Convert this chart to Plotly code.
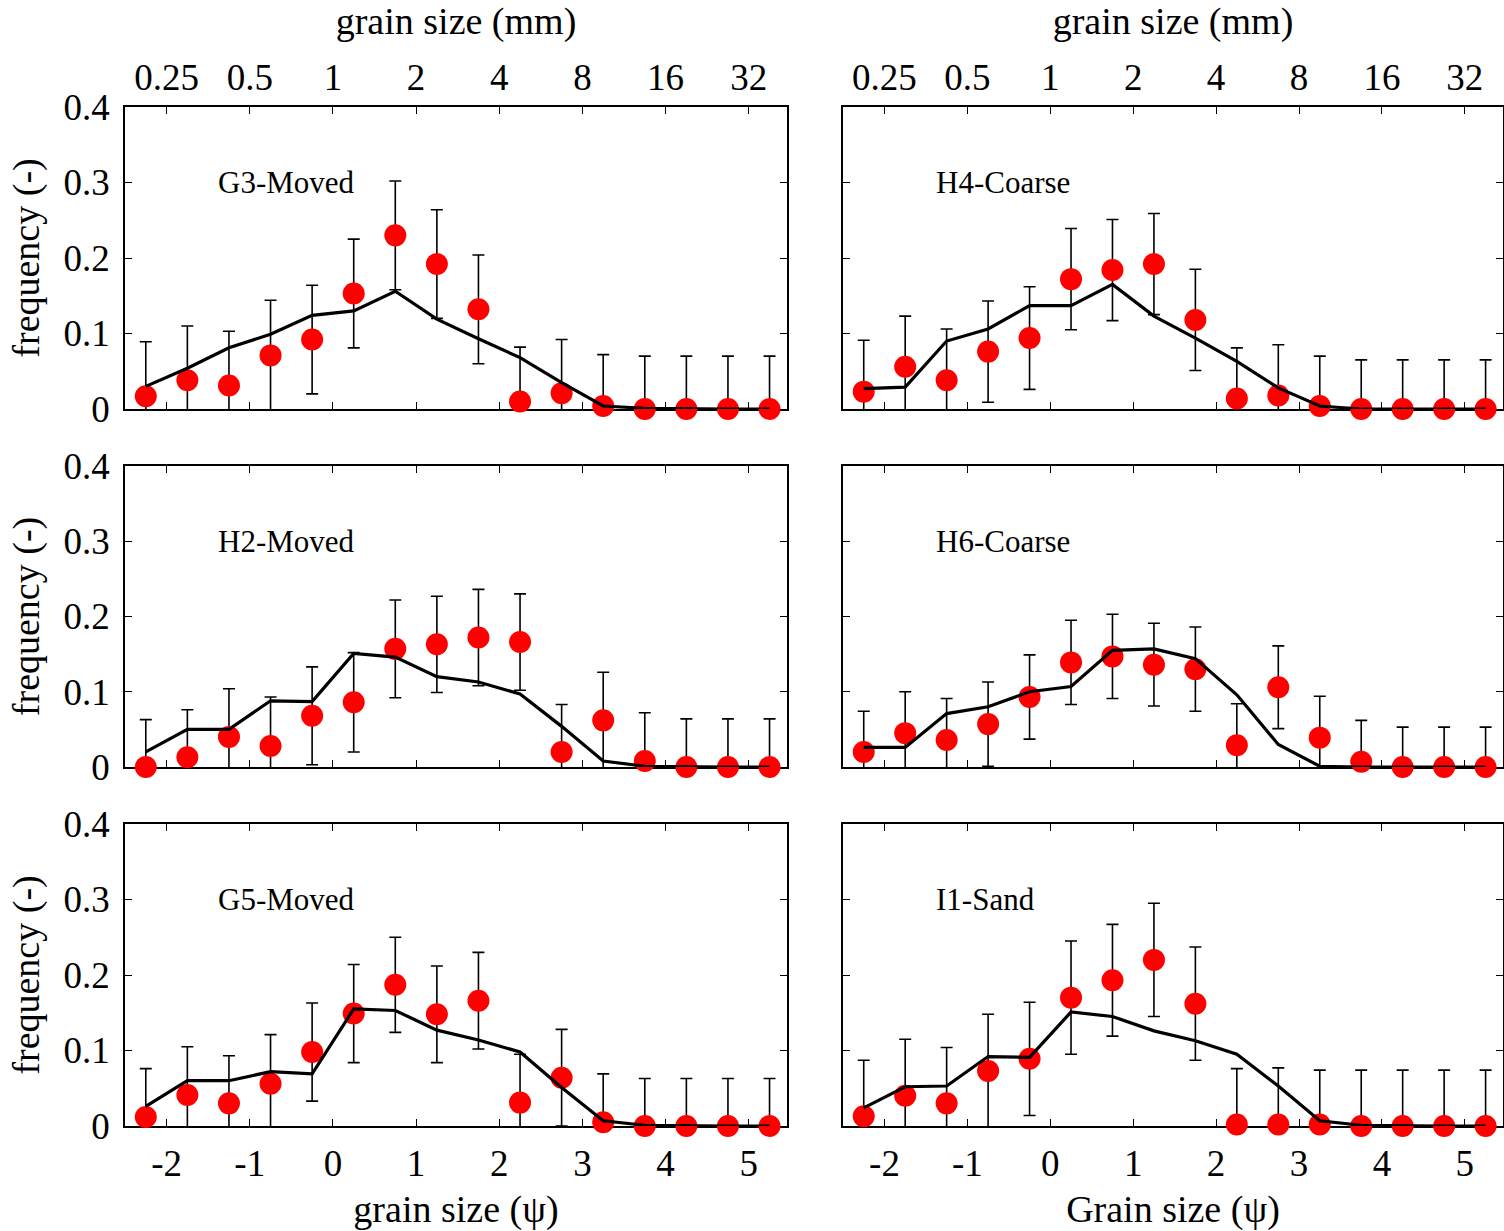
import plotly.graph_objects as go
import numpy as np

# ---------------- data ----------------
psi_bins = [-2.25, -1.75, -1.25, -0.75, -0.25, 0.25, 0.75, 1.25,
            1.75, 2.25, 2.75, 3.25, 3.75, 4.25, 4.75, 5.25]

panel_names = ["G3-Moved", "H4-Coarse", "H2-Moved", "H6-Coarse", "G5-Moved", "I1-Sand"]

G3_obs = [0.017, 0.038, 0.031, 0.071, 0.092, 0.153, 0.230, 0.192, 0.132, 0.010, 0.021, 0.004, 0, 0, 0, 0]
G3_err = [0.072, 0.072, 0.072, 0.073, 0.072, 0.072, 0.072, 0.072, 0.072, 0.072, 0.071, 0.068, 0.070, 0.070, 0.070, 0.070]
G3_model = [0.030, 0.054, 0.081, 0.099, 0.124, 0.130, 0.156, 0.119, 0.093, 0.068, 0.035, 0.004, 0.001, 0, 0, 0]

H4_obs = [0.023, 0.056, 0.038, 0.076, 0.094, 0.172, 0.184, 0.192, 0.118, 0.014, 0.018, 0.004, 0, 0, 0, 0]
H4_err = [0.068, 0.067, 0.068, 0.067, 0.068, 0.067, 0.067, 0.067, 0.067, 0.067, 0.067, 0.066, 0.065, 0.065, 0.065, 0.065]
H4_model = [0.027, 0.029, 0.090, 0.106, 0.137, 0.137, 0.165, 0.123, 0.094, 0.063, 0.028, 0.004, 0, 0, 0, 0]

H2_obs = [0, 0.013, 0.040, 0.028, 0.068, 0.086, 0.157, 0.163, 0.172, 0.166, 0.020, 0.062, 0.008, 0, 0, 0]
H2_err = [0.063, 0.063, 0.064, 0.065, 0.065, 0.066, 0.065, 0.064, 0.064, 0.064, 0.063, 0.064, 0.064, 0.064, 0.064, 0.064]
H2_model = [0.020, 0.050, 0.050, 0.088, 0.087, 0.151, 0.146, 0.120, 0.113, 0.097, 0.054, 0.008, 0.001, 0, 0, 0]

H6_obs = [0.020, 0.045, 0.036, 0.057, 0.093, 0.139, 0.147, 0.136, 0.130, 0.029, 0.106, 0.039, 0.007, 0, 0, 0]
H6_err = [0.054, 0.055, 0.055, 0.056, 0.056, 0.056, 0.056, 0.055, 0.056, 0.055, 0.055, 0.055, 0.055, 0.053, 0.053, 0.053]
H6_model = [0.026, 0.026, 0.071, 0.080, 0.100, 0.107, 0.155, 0.157, 0.144, 0.096, 0.030, 0.001, 0, 0, 0, 0]

G5_obs = [0.012, 0.041, 0.030, 0.056, 0.098, 0.149, 0.187, 0.148, 0.166, 0.031, 0.064, 0.005, 0, 0, 0, 0]
G5_err = [0.064, 0.064, 0.063, 0.065, 0.065, 0.065, 0.063, 0.064, 0.064, 0.064, 0.064, 0.064, 0.063, 0.063, 0.063, 0.063]
G5_model = [0.026, 0.060, 0.060, 0.072, 0.069, 0.155, 0.153, 0.127, 0.114, 0.098, 0.051, 0.007, 0.001, 0, 0, 0]

I1_obs = [0.013, 0.040, 0.030, 0.073, 0.089, 0.170, 0.193, 0.220, 0.162, 0.002, 0.002, 0.002, 0, 0, 0, 0]
I1_err = [0.074, 0.075, 0.074, 0.075, 0.075, 0.075, 0.074, 0.075, 0.075, 0.074, 0.075, 0.072, 0.074, 0.074, 0.074, 0.074]
I1_model = [0.024, 0.052, 0.053, 0.092, 0.091, 0.151, 0.145, 0.126, 0.113, 0.095, 0.053, 0.007, 0.001, 0, 0, 0]

obs_list = [G3_obs, H4_obs, H2_obs, H6_obs, G5_obs, I1_obs]
err_list = [G3_err, H4_err, H2_err, H6_err, G5_err, I1_err]
model_list = [G3_model, H4_model, H2_model, H6_model, G5_model, I1_model]

psi_ticks = [-2, -1, 0, 1, 2, 3, 4, 5]
psi_ticktext = ["-2", "-1", "0", "1", "2", "3", "4", "5"]
mm_ticks = [0.25, 0.5, 1, 2, 4, 8, 16, 32]
mm_ticktext = ["0.25", "0.5", "1", "2", "4", "8", "16", "32"]
y_ticks = [0, 0.1, 0.2, 0.3, 0.4]
y_ticktext = ["0", "0.1", "0.2", "0.3", "0.4"]

x_range = [-2.5, 5.46]
y_range = [0, 0.4]

# ---------------- layout geometry ----------------
W, H = 1504, 1231
col_px = [(125, 787), (843, 1503)]
row_px = [(107, 409), (466, 767), (824, 1126)]

FONT = "Liberation Serif"
TICK_SIZE = 37
TITLE_SIZE = 38
LABEL_SIZE = 31

fig = go.Figure()
layout = dict(
    width=W, height=H, margin=dict(l=0, r=0, t=0, b=0, autoexpand=False),
    paper_bgcolor="white", plot_bgcolor="white", showlegend=False,
    font=dict(family=FONT, color="black", size=TICK_SIZE),
)

annotations = []
for i in range(6):
    r, c = divmod(i, 2)
    n = i + 1
    xa = "x" if n == 1 else f"x{n}"
    ya = "y" if n == 1 else f"y{n}"
    xkey = "xaxis" if n == 1 else f"xaxis{n}"
    ykey = "yaxis" if n == 1 else f"yaxis{n}"
    x0, x1 = col_px[c]
    y0, y1 = row_px[r]
    bottom_row = (r == 2)
    layout[xkey] = dict(
        domain=[x0 / W, x1 / W], anchor=ya, range=x_range,
        tickvals=psi_ticks, ticktext=psi_ticktext,
        showticklabels=bottom_row, ticks="inside", ticklen=7, tickwidth=1.2,
        tickcolor="black", showline=True, linecolor="black", linewidth=1.5,
        mirror="ticks", showgrid=False, zeroline=False, layer="below traces",
        tickfont=dict(family=FONT, size=TICK_SIZE, color="black"),
        ticklabelstandoff=4, automargin=False,
    )
    if bottom_row:
        layout[xkey]["title"] = dict(
            text="grain size (\u03c8)" if c == 0 else "Grain size (\u03c8)",
            font=dict(family=FONT, size=TITLE_SIZE, color="black"), standoff=12)
    layout[ykey] = dict(
        domain=[1 - y1 / H, 1 - y0 / H], anchor=xa, range=y_range,
        tickvals=y_ticks, ticktext=y_ticktext,
        showticklabels=(c == 0), ticks="inside", ticklen=7, tickwidth=1.2,
        tickcolor="black", showline=True, linecolor="black", linewidth=1.5,
        mirror="ticks", showgrid=False, zeroline=False, layer="below traces",
        tickfont=dict(family=FONT, size=TICK_SIZE, color="black"),
        ticklabelstandoff=6, automargin=False,
    )
    if c == 0:
        layout[ykey]["title"] = dict(
            text="frequency (-)", font=dict(family=FONT, size=TITLE_SIZE, color="black"),
            standoff=12)

    obs = np.array(obs_list[i])
    err = np.array(err_list[i])
    # error bars (clipped to the subplot)
    fig.add_trace(go.Scatter(
        x=psi_bins, y=obs, xaxis=xa, yaxis=ya, mode="markers",
        marker=dict(size=2, color="rgba(0,0,0,0)"),
        error_y=dict(type="data", array=err, symmetric=True, color="black",
                     thickness=1.6, width=6),
        cliponaxis=True, hoverinfo="skip"))
    # observed frequencies
    fig.add_trace(go.Scatter(
        x=psi_bins, y=obs, xaxis=xa, yaxis=ya, mode="markers",
        marker=dict(size=22, color="#ff0000", line=dict(width=0)),
        cliponaxis=False, name=panel_names[i] + " observed"))
    # model line
    fig.add_trace(go.Scatter(
        x=psi_bins, y=model_list[i], xaxis=xa, yaxis=ya, mode="lines",
        line=dict(color="black", width=3.2), cliponaxis=True,
        name=panel_names[i] + " model"))

    annotations.append(dict(
        x=-1.4, y=0.30, xref=xa, yref=ya, text=panel_names[i],
        showarrow=False, xanchor="left", yanchor="middle",
        font=dict(family=FONT, size=LABEL_SIZE, color="black")))

# top axes in mm for the top row
mm_vals = np.log2(mm_ticks)
for c, (n_top, base_x, base_y) in enumerate([(7, "x", "y"), (8, "x2", "y2")]):
    x0, x1 = col_px[c]
    layout[f"xaxis{n_top}"] = dict(
        domain=[x0 / W, x1 / W], overlaying=base_x, anchor=base_y, side="top",
        range=x_range, tickvals=mm_vals, ticktext=mm_ticktext,
        ticks="inside", ticklen=7, tickwidth=1.2, tickcolor="black",
        showline=True, linecolor="black", linewidth=1.5, showgrid=False,
        zeroline=False, layer="below traces",
        tickfont=dict(family=FONT, size=TICK_SIZE, color="black"),
        ticklabelstandoff=0, automargin=False,
        title=dict(text="grain size (mm)", font=dict(family=FONT, size=TITLE_SIZE, color="black"),
                   standoff=18),
    )
    fig.add_trace(go.Scatter(
        x=[mm_vals[0]], y=[0], xaxis=f"x{n_top}", yaxis=base_y, mode="markers",
        marker=dict(size=1, opacity=0), hoverinfo="skip", showlegend=False))

layout["annotations"] = annotations
fig.update_layout(**layout)
fig.write_html("out.html")
